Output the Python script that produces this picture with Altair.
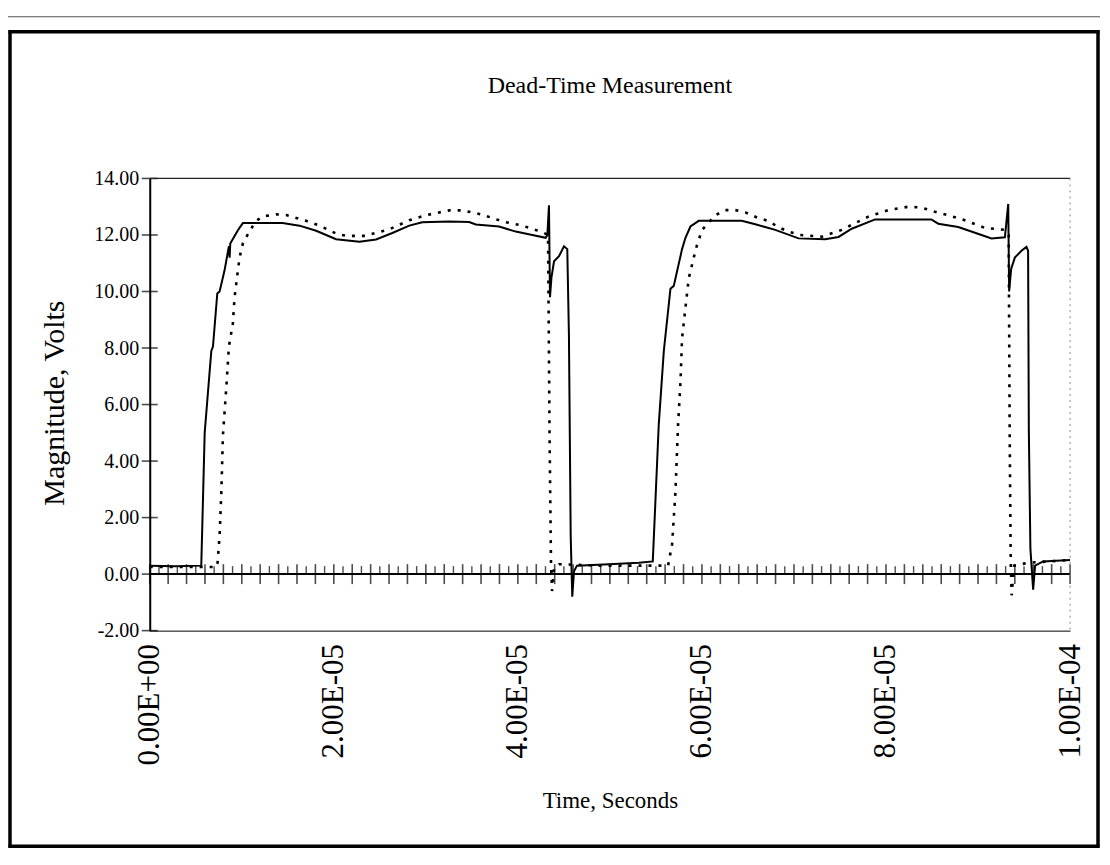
import altair as alt
import pandas as pd

# ---------------- data ----------------
# solid trace (time in microseconds, magnitude in volts)
solid_time_us = [
    0.00, 2.70, 5.60, 5.97, 6.69, 6.87, 7.34, 7.59, 8.13, 8.60,
    8.68, 8.75, 9.58, 10.12, 14.43, 16.27, 18.08, 20.25, 22.78, 24.59,
    26.36, 28.20, 29.61, 32.54, 34.71, 35.43, 37.96, 39.77, 41.57, 43.02,
    43.20, 43.38, 43.49, 43.65, 43.93, 44.47, 45.01, 45.37, 45.55, 45.74,
    45.91, 46.10, 46.42, 49.89, 53.15, 54.66, 55.31, 55.86, 56.58, 56.94,
    57.84, 58.21, 58.75, 59.65, 64.32, 65.80, 67.97, 70.50, 73.39, 74.84,
    76.28, 78.82, 84.92, 85.68, 87.85, 90.38, 91.46, 92.92, 93.28, 93.38,
    93.60, 94.00, 94.72, 95.26, 95.44, 95.52, 95.69, 95.99, 96.20, 97.07,
    100.0,
]
solid_volts = [
    0.30, 0.28, 0.30, 5.00, 7.90, 8.05, 9.93, 10.00, 10.75, 11.60,
    11.20, 11.70, 12.17, 12.42, 12.42, 12.33, 12.15, 11.85, 11.76, 11.84,
    12.07, 12.33, 12.45, 12.48, 12.46, 12.37, 12.30, 12.12, 12.00, 11.90,
    12.00, 13.05, 9.80, 10.50, 11.07, 11.25, 11.60, 11.50, 8.40, 1.35,
    -0.80, 0.10, 0.30, 0.35, 0.40, 0.45, 5.30, 7.90, 10.10, 10.20,
    11.50, 11.90, 12.30, 12.50, 12.50, 12.38, 12.18, 11.88, 11.85, 11.93,
    12.22, 12.55, 12.55, 12.40, 12.28, 12.00, 11.88, 11.92, 13.10, 10.00,
    10.80, 11.20, 11.44, 11.58, 11.44, 5.10, 0.90, -0.55, 0.30, 0.45,
    0.50,
]

# dotted trace
dotted_time_us = [
    0.00, 7.23, 7.37, 7.59, 7.78, 7.95, 8.32, 8.60, 9.03, 9.22,
    9.58, 9.76, 10.12, 10.92, 11.57, 12.28, 13.74, 14.83, 17.00, 18.44,
    20.25, 21.33, 23.50, 24.59, 26.03, 28.20, 30.01, 32.54, 33.98, 36.15,
    38.32, 40.49, 42.66, 43.28, 43.44, 43.60, 43.71, 43.93, 44.47, 48.81,
    53.15, 56.32, 56.76, 57.12, 57.41, 57.67, 57.84, 58.57, 59.11, 59.47,
    60.01, 61.46, 62.55, 63.64, 64.72, 65.98, 67.25, 68.33, 69.41, 70.68,
    73.03, 74.11, 75.20, 76.28, 78.09, 80.26, 82.43, 83.87, 85.32, 86.77,
    88.58, 90.75, 92.92, 93.33, 93.44, 93.55, 93.65, 93.93, 95.44, 100.0,
]
dotted_volts = [
    0.25, 0.25, 0.40, 1.36, 2.90, 4.90, 6.60, 8.05, 8.87, 9.80,
    10.75, 11.20, 11.70, 12.18, 12.50, 12.66, 12.73, 12.71, 12.50, 12.33,
    12.05, 11.97, 11.97, 12.08, 12.20, 12.52, 12.70, 12.87, 12.87, 12.72,
    12.48, 12.33, 12.10, 12.00, 5.00, 0.40, -0.60, 0.20, 0.35, 0.30,
    0.30, 0.30, 1.06, 2.90, 5.30, 6.80, 8.35, 10.47, 11.20, 11.65,
    12.18, 12.70, 12.88, 12.88, 12.80, 12.62, 12.49, 12.27, 12.12, 12.00,
    11.94, 12.06, 12.18, 12.36, 12.65, 12.88, 13.00, 12.97, 12.82, 12.70,
    12.52, 12.25, 12.18, 12.00, 5.00, 0.50, -0.75, 0.30, 0.40, 0.50,
]

# axis ticks and labels
x_tick_values = [0.0, 2e-5, 4e-5, 6e-5, 8e-5, 1e-4]
x_tick_labels = ["0.00E+00", "2.00E-05", "4.00E-05", "6.00E-05", "8.00E-05", "1.00E-04"]
y_tick_values = [-2, 0, 2, 4, 6, 8, 10, 12, 14]
y_tick_labels = ["-2.00", "0.00", "2.00", "4.00", "6.00", "8.00", "10.00", "12.00", "14.00"]
major_tick_us = [2 * i for i in range(51)]      # crossing ticks on the zero line
minor_tick_us = [2 * i + 1 for i in range(50)]  # short ticks between them

TITLE = "Dead-Time Measurement"
X_TITLE = "Time, Seconds"
Y_TITLE = "Magnitude, Volts"

# ---------------- chart ----------------
W, H = 922, 453
FONT = "Liberation Serif"

solid_df = pd.DataFrame({"t": [v * 1e-6 for v in solid_time_us], "v": solid_volts})
dotted_df = pd.DataFrame({"t": [v * 1e-6 for v in dotted_time_us], "v": dotted_volts})
major_df = pd.DataFrame({"t": [v * 1e-6 for v in major_tick_us], "v": 0.0})
minor_df = pd.DataFrame({"t": [v * 1e-6 for v in minor_tick_us], "v": 0.0})
ytick_df = pd.DataFrame({"v": y_tick_values, "t": 0.0})
zero_df = pd.DataFrame({"t": [0.0, 1e-4], "v": [0.0, 0.0]})
one = pd.DataFrame({"label": [TITLE]})

x_scale = alt.Scale(domain=[0, 1e-4], nice=False, zero=False)
y_scale = alt.Scale(domain=[-2, 14], nice=False)

x_labels_js = "[" + ",".join("'" + s + "'" for s in x_tick_labels) + "]"
y_labels_js = "[" + ",".join("'" + s + "'" for s in y_tick_labels) + "]"

x_axis = alt.Axis(
    values=x_tick_values,
    labelExpr=x_labels_js + "[round(datum.value / 2e-5)]",
    labelAngle=-90, labelFlush=False, labelOverlap=False,
    labelFont=FONT, labelFontSize=31, labelColor="black", labelPadding=13,
    ticks=False, grid=False, domainColor="black", domainWidth=1,
    title=X_TITLE, titleFont=FONT, titleFontSize=23, titleFontWeight="normal",
    titleColor="black", titleX=461, titleY=170, titleAlign="center",
    titleBaseline="middle", titleAngle=0,
)
y_axis = alt.Axis(
    values=y_tick_values,
    labelExpr=y_labels_js + "[round((datum.value + 2) / 2)]",
    labelFlush=False, labelOverlap=False,
    labelFont=FONT, labelFontSize=20, labelColor="black", labelPadding=11,
    ticks=False, grid=False, domainColor="black", domainWidth=2,
    title=Y_TITLE, titleFont=FONT, titleFontSize=30, titleFontWeight="normal",
    titleColor="black", titleX=-95, titleY=H / 2 - 2, titleAlign="center",
    titleBaseline="middle", titleAngle=270,
)

X = alt.X("t:Q", scale=x_scale, axis=x_axis)
Y = alt.Y("v:Q", scale=y_scale, axis=y_axis)

solid = alt.Chart(solid_df).mark_line(color="black", strokeWidth=2).encode(x=X, y=Y)
dotted = alt.Chart(dotted_df).mark_line(
    color="black", strokeWidth=2.6, strokeDash=[3, 7]
).encode(x=X, y=Y)

zero_line = alt.Chart(zero_df).mark_line(color="black", strokeWidth=2).encode(x=X, y=Y)
major_ticks = alt.Chart(major_df).mark_tick(
    color="black", orient="vertical", size=20, thickness=1.6
).encode(x=X, y=Y)
minor_ticks = alt.Chart(minor_df).mark_tick(
    color="black", orient="vertical", size=8, thickness=1.4, yOffset=-4
).encode(x=X, y=Y)
y_ticks = alt.Chart(ytick_df).mark_tick(
    color="black", orient="horizontal", size=16, thickness=1.6
).encode(x=X, y=Y)

def hrule(x1, x2, y, color="black", width=1.0, dash=None):
    kw = dict(color=color, strokeWidth=width)
    if dash:
        kw["strokeDash"] = dash
    return alt.Chart(one).mark_rule(**kw).encode(
        x=alt.value(x1), x2=alt.value(x2), y=alt.value(y)
    )

def vrule(x, y1, y2, color="black", width=1.0, dash=None):
    kw = dict(color=color, strokeWidth=width)
    if dash:
        kw["strokeDash"] = dash
    return alt.Chart(one).mark_rule(**kw).encode(
        x=alt.value(x), y=alt.value(y1), y2=alt.value(y2)
    )

top_border = hrule(0, W, 0, color="#222222", width=1.2)
right_border = vrule(W, 0, H, color="#888888", width=1, dash=[2, 4])
frame = [
    hrule(-141.5, 951.5, -147, width=3.5),
    hrule(-141.5, 951.5, 669, width=3.5),
    vrule(-140, -148.5, 670.5, width=3.5),
    vrule(950, -148.5, 670.5, width=3.5),
]
scan_line = hrule(-142, 952, -162, color="#555555", width=1)

title = alt.Chart(one).mark_text(
    font=FONT, fontSize=24, color="black", align="center", baseline="middle"
).encode(
    x=alt.value(461), y=alt.value(-93), text="label:N"
)

chart = alt.layer(
    solid, dotted, zero_line, major_ticks, minor_ticks, y_ticks,
    *frame, scan_line, title, top_border, right_border,
).properties(
    width=W, height=H,
    autosize=alt.AutoSizeParams(type="none"),
    padding={"left": 142, "top": 170, "right": 32, "bottom": 222},
    background="white",
).configure_view(stroke=None)

chart.save("out.html", embed_options={"renderer": "svg", "actions": False})
